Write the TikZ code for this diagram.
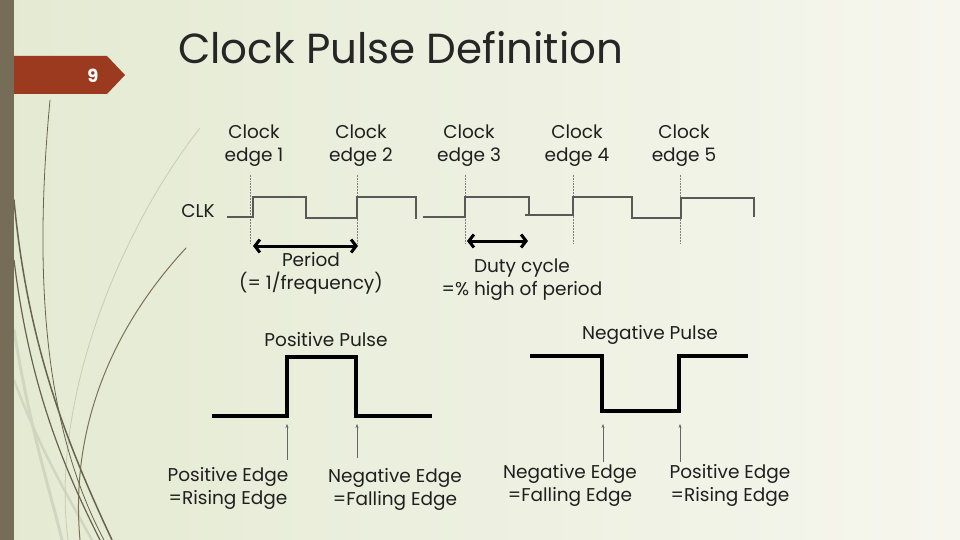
\documentclass[tikz,border=0pt]{standalone}
\usepackage{fontspec}
\setmainfont{Poppins}
\usetikzlibrary{arrows.meta}
\definecolor{bgleft}{RGB}{228,234,210}
\definecolor{bgright}{RGB}{246,246,238}
\definecolor{barcol}{RGB}{117,109,88}
\definecolor{badgecol}{RGB}{155,58,31}
\definecolor{stemdark}{RGB}{105,98,78}
\definecolor{stembrown}{RGB}{125,112,88}
\definecolor{stemlight}{RGB}{200,204,180}
\definecolor{stempale}{RGB}{210,214,192}
\begin{document}
\begin{tikzpicture}[x=1pt, y=-1pt, line join=miter]
			\tikzstyle{txt}      = [align=center, inner sep=0pt, text=black!88, font=\fontsize{18.5}{23}\selectfont]
			\tikzstyle{titletxt} = [anchor=west, inner sep=0pt, text=black!85, font=\fontsize{42}{46}\selectfont]
			\tikzstyle{wave}     = [draw=black!65, line width=1.1pt]
			\tikzstyle{pulse}    = [draw=black, line width=3.2pt]
			\tikzstyle{edgemark} = [draw=black!50, densely dotted, line width=0.5pt]
			\tikzstyle{span}     = [{Straight Barb[length=5pt,width=13pt]}-{Straight Barb[length=5pt,width=13pt]}, line width=3pt]
			\tikzstyle{pointer}  = [-{Stealth[length=4pt,width=3pt]}, draw=black!60, line width=0.5pt]
			\tikzstyle{stem}     = [line cap=round]

			\useasboundingbox (0,0) rectangle (960,540);
			\shade[left color=bgleft, right color=bgright] (0,0) rectangle (960,540);

%			stems on the left
			\draw[stem, stempale, line width=3pt] (14,330) .. controls (30,430) and (50,490) .. (62,540);
			\draw[stem, stempale, line width=2.5pt] (14,380) .. controls (40,450) and (70,500) .. (92,540);
			\draw[stem, stemlight, line width=0.8pt] (200,128) .. controls (120,230) and (50,400) .. (68,540);
			\draw[stem, stembrown, line width=1pt] (186,248) .. controls (110,330) and (70,430) .. (80,540);
			\draw[stem, stemdark, line width=0.8pt] (50,100) .. controls (35,260) and (40,420) .. (104,540);
			\draw[stem, stemdark, line width=1.5pt] (14,200) .. controls (28,350) and (70,450) .. (112,540);
			\draw[stem, stemdark, line width=1.2pt] (14,260) .. controls (30,390) and (65,470) .. (100,540);

			\fill[badgecol] (0,56) -- (107,56) -- (125,75) -- (107,94) -- (0,94) -- cycle;
			\fill[barcol] (0,0) rectangle (14,540);
			\node[text=white, font=\fontsize{18}{18}\selectfont\bfseries] (slide) at (93,76) {9};

			\node[titletxt] (title) at (178,48) {Clock Pulse Definition};

			\foreach \n/\x in {1/250, 2/357, 3/465, 4/573, 5/680}{
				\node[txt] (lbl\n) at (\x+4,146) {Clock\\edge \n};
				\coordinate (top\n) at (\x,175);
				\coordinate (bot\n) at (\x,243);
				\draw[edgemark] (top\n) -- (bot\n);
			}

			\node[txt] (clk) at (198,211) {CLK};
			\draw[wave] (227,217) -- (253,217) -- (253,197) -- (306,197) -- (306,218) -- (357,218) -- (357,197) -- (416,197) -- (416,219);
			\draw[wave] (423,217) -- (465,217) -- (465,197) -- (529,197) -- (529,216);
			\draw[wave] (525,215) -- (573,215) -- (573,197) -- (632,197) -- (632,218) -- (681,218) -- (681,198) -- (754,198) -- (754,217);

			\coordinate (perL) at (253,246);
			\coordinate (perR) at (358,246);
			\draw[span] (perL) -- (perR);
			\node[txt] (period) at (311,273) {Period\\(= 1/frequency)};

			\coordinate (dutyL) at (467,241);
			\coordinate (dutyR) at (528,241);
			\draw[span] (dutyL) -- (dutyR);
			\node[txt] (duty) at (522,280) {Duty cycle\\=\% high of period};

			\node[txt] (pospulse) at (326,340) {Positive Pulse};
			\draw[pulse] (212,416) -- (287,416) -- (287,357) -- (356,357) -- (356,416) -- (432,416);

			\node[txt] (negpulse) at (650,335) {Negative Pulse};
			\draw[pulse] (530,356) -- (602,356) -- (602,411) -- (679,411) -- (679,356) -- (748,356);

			\foreach \p/\x/\ya in {a/287/460, b/357/458, c/603/462, d/680/462}{
				\coordinate (\p0) at (\x,\ya);
				\coordinate (\p1) at (\x,424);
				\draw[pointer] (\p0) -- (\p1);
			}

			\node[txt] (posedgeA) at (228,488) {Positive Edge\\=Rising Edge};
			\node[txt] (negedgeA) at (395,489) {Negative Edge\\=Falling Edge};
			\node[txt] (negedgeB) at (570,485) {Negative Edge\\=Falling Edge};
			\node[txt] (posedgeB) at (730,485) {Positive Edge\\=Rising Edge};

		\end{tikzpicture}
\end{document}
